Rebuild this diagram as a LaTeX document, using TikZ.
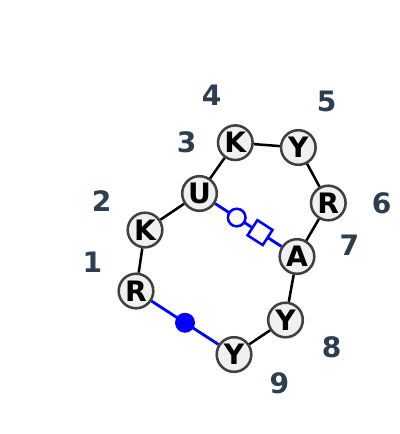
\documentclass[tikz,border=0pt]{standalone}
\usepackage{fontspec}
\setmainfont{DejaVu Sans}
\usetikzlibrary{shapes.geometric}

\definecolor{slate}{HTML}{2C3E50}
\definecolor{ringfill}{HTML}{F0F0F0}
\definecolor{ringline}{HTML}{404040}

\begin{document}
\begin{tikzpicture}[x=0.025cm, y=-0.025cm,
    residue/.style={draw=ringline, fill=ringfill, circle, line width=1.8pt, minimum size=0.865cm, inner sep=0pt, font=\fontsize{20}{22}\selectfont\bfseries},
    index/.style={text=slate, inner sep=0pt, font=\fontsize{20}{22}\selectfont\bfseries},
    bond/.style={draw=black, line width=1.8pt},
    link/.style={draw=blue, line width=2pt},
    opendot/.style={draw=blue, fill=white, circle, line width=1.8pt, minimum size=0.44cm, inner sep=0pt},
    fulldot/.style={fill=blue, circle, minimum size=0.5cm, inner sep=0pt},
    openbox/.style={draw=blue, fill=white, rectangle, line width=1.8pt, minimum size=0.45cm, inner sep=0pt}]
    \useasboundingbox (0,0) rectangle (400,434);

    \node[residue] (r1) at (136,291) {R};
    \node[residue] (k2) at (145,230) {K};
    \node[residue] (u3) at (199.5,193.5) {U};
    \node[residue] (k4) at (235.3,142.7) {K};
    \node[residue] (y5) at (298.3,147.5) {Y};
    \node[residue] (r6) at (328.3,203) {R};
    \node[residue] (a7) at (297,256.5) {A};
    \node[residue] (y8) at (285.5,320) {Y};
    \node[residue] (y9) at (234,354.5) {Y};

    \node[index] (n1) at (92.3,262) {1};
    \node[index] (n2) at (101.7,201) {2};
    \node[index] (n3) at (186.7,142) {3};
    \node[index] (n4) at (211.7,95.5) {4};
    \node[index] (n5) at (326.7,101) {5};
    \node[index] (n6) at (381.7,203.5) {6};
    \node[index] (n7) at (349.3,245.5) {7};
    \node[index] (n8) at (331.7,347.5) {8};
    \node[index] (n9) at (279.3,383.5) {9};

    \foreach \a/\b in {r1/k2, k2/u3, u3/k4, k4/y5, y5/r6, r6/a7, a7/y8, y8/y9}
        \draw[bond] (\a) -- (\b);

    \draw[link] (u3) -- node[pos=0.326, opendot] (ring) {} node[pos=0.678, sloped, openbox] (box) {} (a7);
    \draw[link] (r1) -- node[pos=0.5, fulldot] (dot) {} (y9);
\end{tikzpicture}
\end{document}
